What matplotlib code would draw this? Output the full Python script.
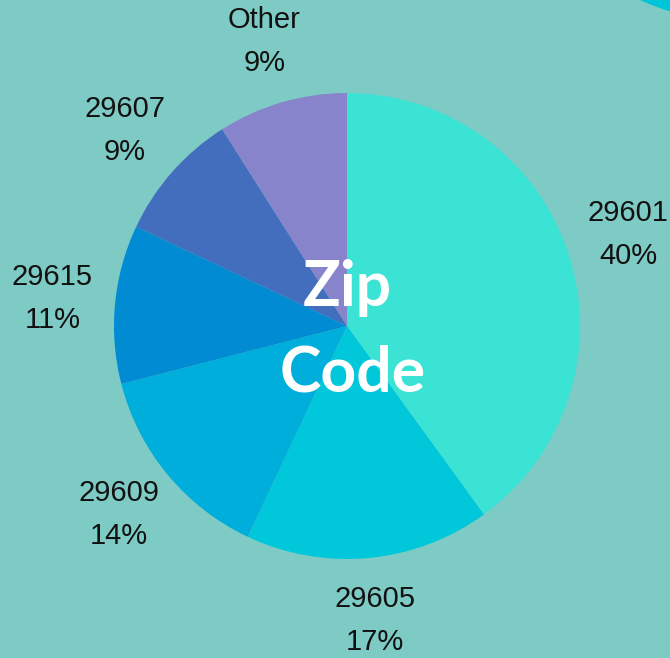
import matplotlib
matplotlib.use("Agg")
from matplotlib import pyplot as plt
from matplotlib.patches import Circle

# zip code share of respondents
zips = ["29601", "29605", "29609", "29615", "29607", "Other"]
shares = [40, 17, 14, 11, 9, 9]
colors = ["#3be3d5", "#00c8da", "#00aedb", "#008bd3", "#426ebd", "#8784cc"]

bg = "#7ecbc5"

fig = plt.figure(figsize=(6.7, 6.58), dpi=100)
fig.patch.set_facecolor(bg)
ax = fig.add_axes([0, 0, 1, 1])
ax.set_facecolor(bg)

labels = [z + "\n" + str(s) + "%" for z, s in zip(zips, shares)]

wedges, texts = ax.pie(shares, labels=labels, colors=colors, startangle=90,
                       counterclock=False, center=(347, 332), radius=233,
                       labeldistance=1.27,
                       textprops=dict(ha="center", va="center", fontsize=21,
                                      family="Liberation Sans", color="#111111",
                                      linespacing=1.68))

# decorative shape in the top right corner
ax.add_patch(Circle((740, 878), 241, color="#00c5d8", clip_on=True))

ax.text(347, 370, "Zip", ha="center", va="center", color="white",
        fontsize=45, fontweight="bold", family="Lato")
ax.text(353, 284, "Code", ha="center", va="center", color="white",
        fontsize=45, fontweight="bold", family="Lato")

ax.set_xlim(0, 670)
ax.set_ylim(0, 658)
ax.set_aspect("auto")
ax.axis("off")

fig.savefig("out.png", dpi=100, facecolor=bg)
